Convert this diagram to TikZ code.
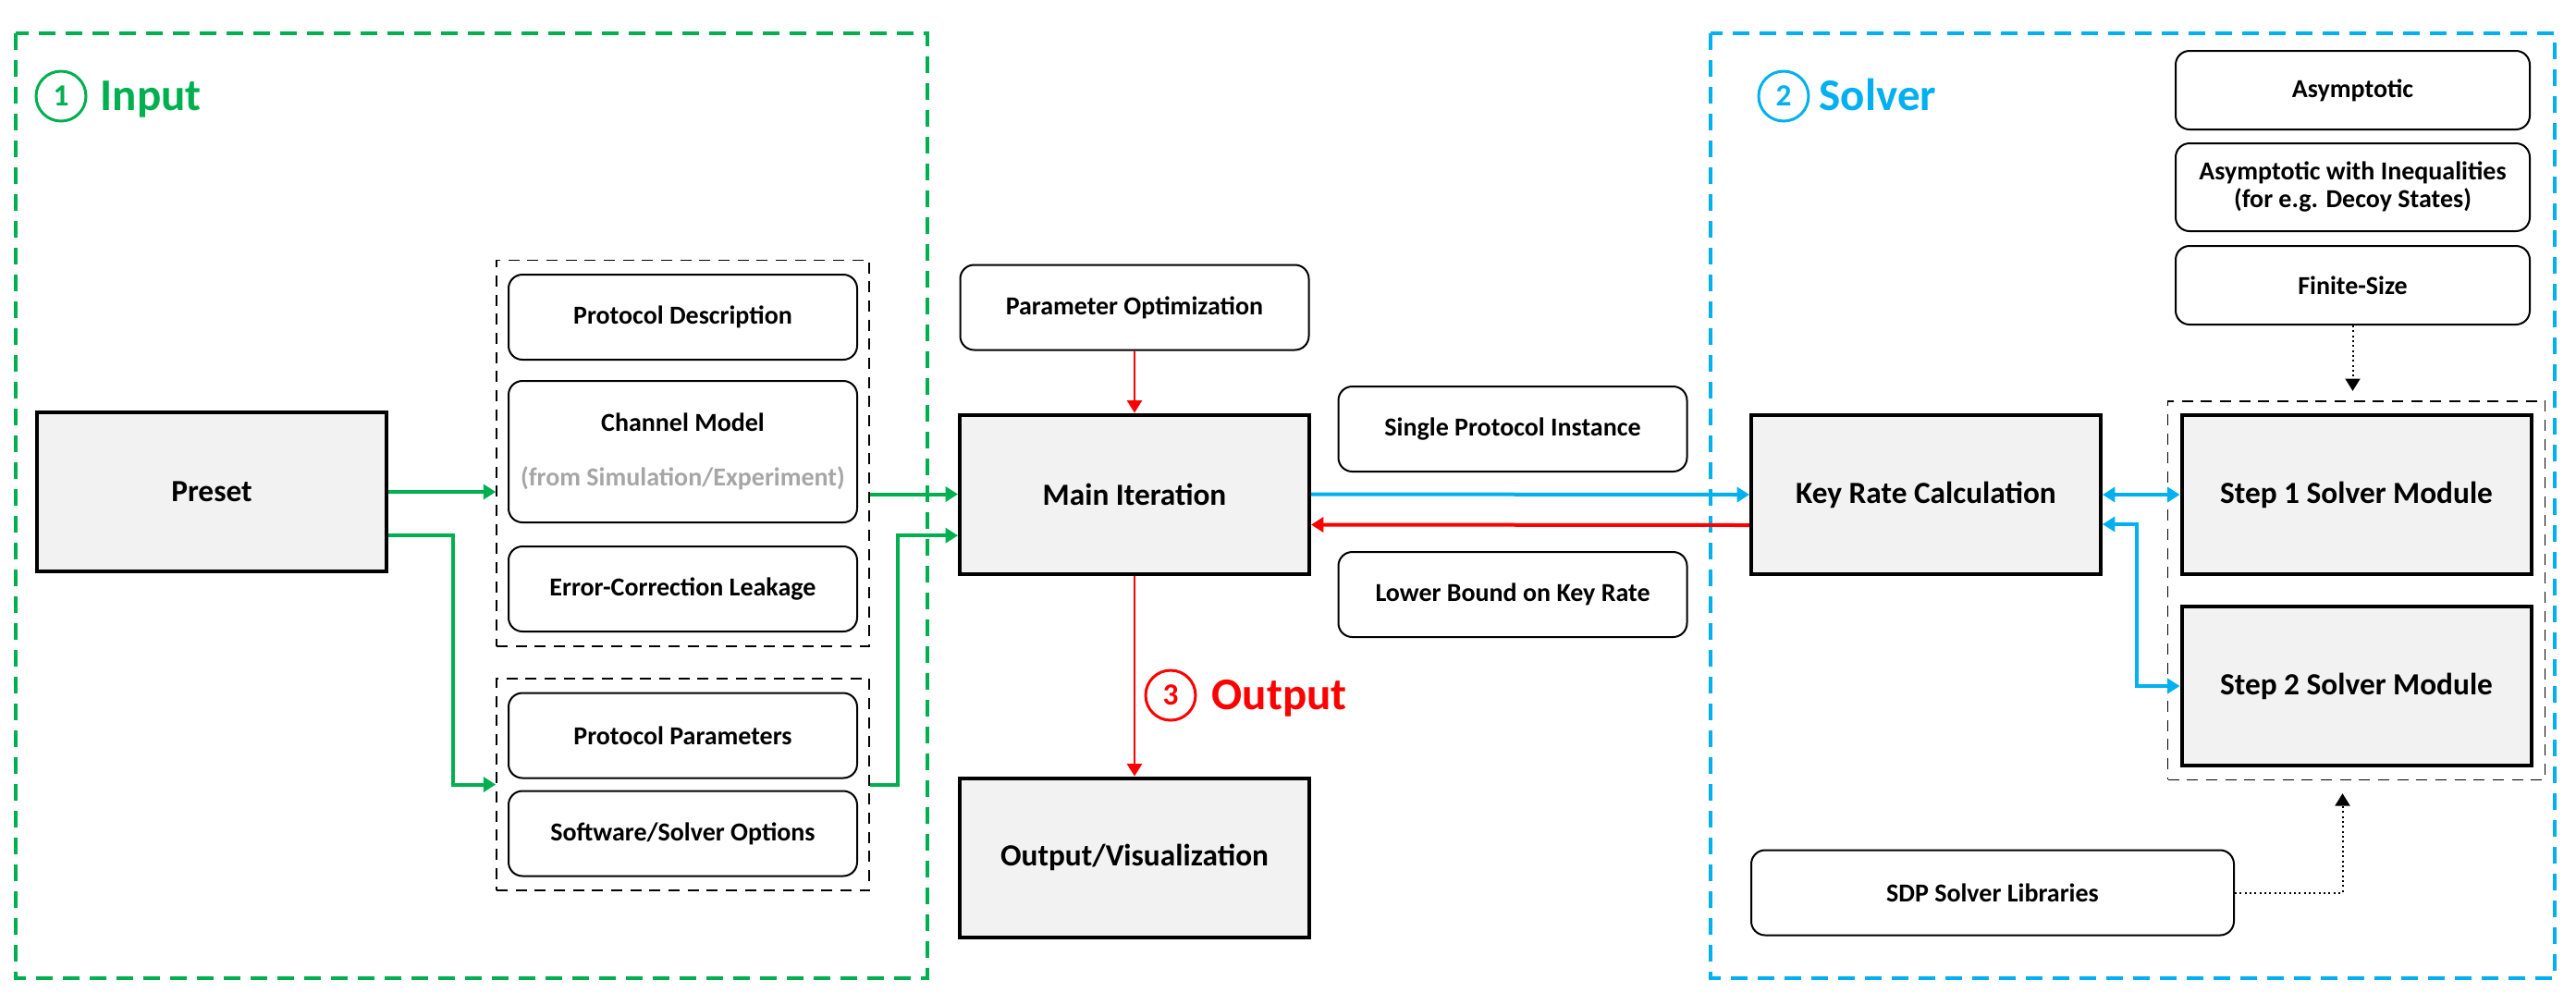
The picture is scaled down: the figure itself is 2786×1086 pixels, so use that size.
\documentclass[tikz,border=0pt]{standalone}
\usepackage{fontspec}
\setmainfont{Carlito}
\usepackage{tikz}
\usetikzlibrary{arrows.meta,positioning,fit,calc}
\definecolor{inputgreen}{RGB}{0,176,80}
\definecolor{solverblue}{RGB}{0,176,240}
\definecolor{outputred}{RGB}{255,0,0}
\definecolor{boxgray}{RGB}{242,242,242}
\definecolor{notegray}{RGB}{166,166,166}
\tikzset{
	>={Triangle[length=4pt,width=4.8pt]}, % filled triangle heads on every arrow
	core/.style={draw, line width=1.2pt, fill=boxgray, minimum width=113.4pt, minimum height=51.6pt, font=\bfseries\fontsize{10}{12}\selectfont}, % the grey blocks
	item/.style={draw, line width=0.6pt, rounded corners=4.5pt, minimum width=113.1pt, minimum height=27.6pt, align=center, font=\bfseries\fontsize{8.4}{9}\selectfont}, % the white rounded boxes
	group/.style={draw, line width=0.5pt, dash pattern=on 3.6pt off 2.6pt, inner xsep=3.6pt, inner ysep=4.4pt}, % black dashed grouping
	frame/.style={line width=1.3pt, dash pattern=on 5.4pt off 3.3pt}, % coloured stage frames
	stagenum/.style={circle, draw, line width=0.9pt, minimum size=16.2pt, inner sep=0pt, font=\bfseries\fontsize{10}{10}\selectfont},
	stagetitle/.style={anchor=base west, inner sep=0pt, font=\bfseries\fontsize{14.7}{16}\selectfont},
	flow/.style={->, line width=1.2pt},
	thinflow/.style={->, line width=0.7pt},
	hint/.style={->, line width=0.6pt, densely dotted},
}

\begin{document}
\begin{tikzpicture}[x=0.3pt, y=-0.3pt]
	\useasboundingbox (0,0) rectangle (2786,1086);

	% stage frames
	\draw[frame, inputgreen] (17,36) rectangle (1003,1058);
	\draw[frame, solverblue] (1850,36) rectangle (2763,1058);

	\node[stagenum, inputgreen] (IN_NUM) at (66,104) {1};
	\node[stagetitle, inputgreen] (IN_TITLE) at (108,119) {Input};
	\node[stagenum, solverblue] (SOLVER_NUM) at (1929,104) {2};
	\node[stagetitle, solverblue] (SOLVER_TITLE) at (1967,119) {Solver};
	\node[stagenum, outputred] (OUT_NUM) at (1266,752) {3};
	\node[stagetitle, outputred] (OUT_TITLE) at (1310,767) {Output};

	% input
	\node[core] (PRESET) at (229,532) {Preset};
	\node[item] (PROT_DESC) at (738.5,343) {Protocol Description};
	\node[item, minimum height=45.9pt, below=6.3pt of PROT_DESC] (CHANNEL) {Channel Model\\[8.7pt]{\color{notegray}(from Simulation/Experiment)}};
	\node[item, below=7.2pt of CHANNEL] (EC_LEAK) {Error-Correction Leakage};
	\node[item] (PROT_PARAM) at (738.5,795.5) {Protocol Parameters};
	\node[item, below=3.6pt of PROT_PARAM] (SW_OPT) {Software/Solver Options};
	\node[group, fit=(PROT_DESC)(EC_LEAK)] (GRP_A) {};
	\node[group, fit=(PROT_PARAM)(SW_OPT)] (GRP_B) {};

	% main loop
	\node[core] (MAIN_ITER) at (1227,534.5) {Main Iteration};
	\node[item, above=20.1pt of MAIN_ITER] (PARAM_OPT) {Parameter Optimization};
	\node[core, below=65.1pt of MAIN_ITER] (OUTPUT) {Output/Visualization};
	\node[item] (SINGLE_INST) at (1636,464) {Single Protocol Instance};
	\node[item, below=25.5pt of SINGLE_INST] (LOWER_BOUND) {Lower Bound on Key Rate};

	% solver
	\node[core] (KEY_RATE) at (2083,535) {Key Rate Calculation};
	\node[item, minimum width=114.9pt, minimum height=25.5pt] (ASYM) at (2544.5,97.5) {Asymptotic};
	\node[item, minimum width=114.9pt, minimum height=28.5pt, below=3.9pt of ASYM] (ASYM_INEQ) {Asymptotic with Inequalities\\(for e.g. Decoy States)};
	\node[item, minimum width=114.9pt, minimum height=25.5pt, below=4.2pt of ASYM_INEQ] (FINITE) {Finite-Size};
	\node[core] (STEP1) at (2548.5,535) {Step 1 Solver Module};
	\node[core, below=9.3pt of STEP1] (STEP2) {Step 2 Solver Module};
	\node[group, inner xsep=3.9pt, inner ysep=4pt, fit=(STEP1)(STEP2)] (GRP_C) {};
	\node[item, minimum width=156.6pt] (SDP) at (2155,965.5) {SDP Solver Libraries};

	% connections
	\draw[flow, inputgreen] (PRESET.east) -- (PRESET.east -| GRP_A.west);
	\draw[flow, inputgreen] ([yshift=-14.1pt]PRESET.east) -- ++(21pt,0) |- (GRP_B.west);
	\draw[flow, inputgreen] (GRP_A.east |- MAIN_ITER.west) -- (MAIN_ITER.west);
	\draw[flow, inputgreen] (GRP_B.east) -- ++(9pt,0) |- ([yshift=-13.4pt]MAIN_ITER.west);
	\draw[thinflow, outputred] (PARAM_OPT) -- (MAIN_ITER);
	\draw[thinflow, outputred] (MAIN_ITER) -- (OUTPUT);
	\draw[flow, solverblue] (MAIN_ITER.east) -- (KEY_RATE.west);
	\draw[flow, outputred] ([yshift=-9.9pt]KEY_RATE.west) -- ([yshift=-9.9pt]MAIN_ITER.east);
	\draw[flow, <->, solverblue] (KEY_RATE.east) -- (STEP1.west);
	\draw[flow, <->, solverblue] ([yshift=-9.6pt]KEY_RATE.east) -- ++(11.1pt,0) |- (STEP2.west);
	\draw[hint] (FINITE.south) -- ([yshift=3pt]GRP_C.north -| FINITE.south);
	\draw[hint] (SDP.east) -| ([xshift=-4.5pt,yshift=-4.2pt]GRP_C.south);
\end{tikzpicture}
\end{document}
